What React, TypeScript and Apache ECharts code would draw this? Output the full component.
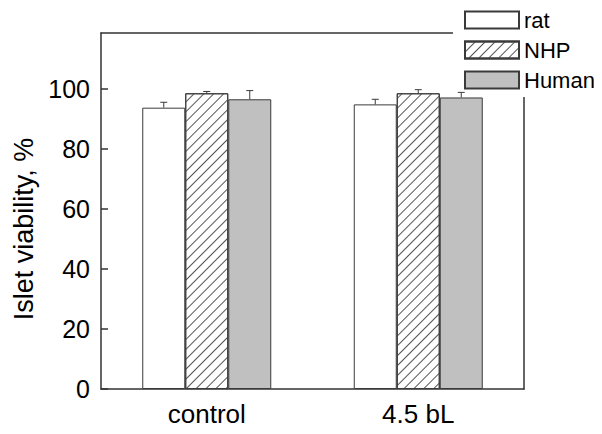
import React, { useEffect, useRef } from "react";
import * as echarts from "echarts";

const categories = ["control", "4.5 bL"];
const seriesNames = ["rat", "NHP", "Human"];
const ratValues = [93.8, 94.9];
const nhpValues = [98.6, 98.6];
const humanValues = [96.6, 97.2];
const ratErrors = [1.8, 1.7];
const nhpErrors = [0.6, 1.2];
const humanErrors = [2.9, 1.7];
const yMin = 0;
const yMax = 118.7;
const yInterval = 20;

const BAR_W = 43;
const FONT = "'Liberation Sans', Arial, sans-serif";
const EDGE = "#3a3a3a";

export default function App() {
  const ref = useRef<HTMLDivElement>(null);
  useEffect(() => {
    if (!ref.current) return;
    const chart = echarts.init(ref.current, undefined, { renderer: "svg" });
    const allValues = [ratValues, nhpValues, humanValues];
    const allErrors = [ratErrors, nhpErrors, humanErrors];
    const errData: number[][] = [];
    allValues.forEach((vals, s) => {
      vals.forEach((v, c) => errData.push([c, v, allErrors[s][c], s]));
    });
    const n = allValues.length;
    const option: any = {
      animation: false,
      textStyle: { fontFamily: FONT },
      grid: { left: 101, right: 78, top: 33, bottom: 45 },
      legend: {
        data: seriesNames,
        orient: "vertical",
        left: 453,
        top: 0,
        padding: [9, 1, 6, 11],
        backgroundColor: "#fff",
        itemWidth: 54,
        itemHeight: 17,
        itemGap: 8,
        icon: "rect",
        textStyle: { fontSize: 22, lineHeight: 17, color: "#000", fontFamily: FONT },
      },
      xAxis: [
        {
          type: "category",
          data: categories,
          position: "bottom",
          axisLine: { lineStyle: { color: "#333", width: 1.5 } },
          axisTick: { alignWithLabel: true, length: 7, lineStyle: { color: "#333", width: 1.5 } },
          axisLabel: { fontSize: 26, color: "#000", margin: 12, fontFamily: FONT },
        },
        {
          type: "category",
          data: categories,
          position: "bottom",
          axisLine: { show: false },
          axisTick: { length: 5, lineStyle: { color: "#333", width: 1.5 } },
          axisLabel: { show: false },
        },
        {
          type: "category",
          data: categories,
          position: "top",
          axisLine: { lineStyle: { color: "#333", width: 1.5 } },
          axisTick: { show: false },
          axisLabel: { show: false },
        },
      ],
      yAxis: [
        {
          type: "value",
          min: yMin,
          max: yMax,
          interval: yInterval,
          name: "Islet viability, %",
          nameLocation: "middle",
          nameGap: 61,
          nameTextStyle: { fontSize: 27, color: "#000", fontFamily: FONT, padding: [0, 36, 0, 0] },
          splitLine: { show: false },
          axisLine: { show: true, lineStyle: { color: "#333", width: 1.5 } },
          axisTick: { show: true, inside: true, length: 7, lineStyle: { color: "#333", width: 1.5 } },
          axisLabel: { fontSize: 25, color: "#000", margin: 11, fontFamily: FONT, showMaxLabel: false },
        },
        {
          type: "value",
          min: yMin,
          max: yMax,
          position: "right",
          splitLine: { show: false },
          axisLine: { show: true, lineStyle: { color: "#333", width: 1.5 } },
          axisTick: { show: false },
          axisLabel: { show: false },
        },
      ],
      series: [
        {
          name: seriesNames[0],
          type: "bar",
          data: ratValues,
          barWidth: BAR_W,
          barGap: "0%",
          itemStyle: { color: "#fff", borderColor: EDGE, borderWidth: 1 },
        },
        {
          name: seriesNames[1],
          type: "bar",
          data: nhpValues,
          barWidth: BAR_W,
          barGap: "0%",
          itemStyle: {
            color: "#fff",
            borderColor: EDGE,
            borderWidth: 1,
            decal: {
              symbol: "rect",
              symbolSize: 1,
              color: "#555",
              backgroundColor: "#fff",
              dashArrayX: [1, 0],
              dashArrayY: [1, 6],
              rotation: -Math.PI / 4,
            },
          },
        },
        {
          name: seriesNames[2],
          type: "bar",
          data: humanValues,
          barWidth: BAR_W,
          barGap: "0%",
          itemStyle: { color: "#c0c0c0", borderColor: EDGE, borderWidth: 1 },
        },
        {
          name: "error",
          type: "custom",
          data: errData,
          z: 5,
          renderItem: (params: any, api: any) => {
            const c = api.value(0);
            const v = api.value(1);
            const e = api.value(2);
            const s = api.value(3);
            const base = api.coord([c, v]);
            const top = api.coord([c, v + e]);
            const cx = base[0] + (s - (n - 1) / 2) * BAR_W;
            const style = { stroke: EDGE, lineWidth: 1 };
            return {
              type: "group",
              children: [
                { type: "line", shape: { x1: cx, y1: base[1], x2: cx, y2: top[1] }, style },
                { type: "line", shape: { x1: cx - 3.5, y1: top[1], x2: cx + 3.5, y2: top[1] }, style },
              ],
            };
          },
        },
      ],
    };
    chart.setOption(option);
    return () => chart.dispose();
  }, []);
  return <div ref={ref} style={{ width: 602, height: 434, margin: -8 }} />;
}
